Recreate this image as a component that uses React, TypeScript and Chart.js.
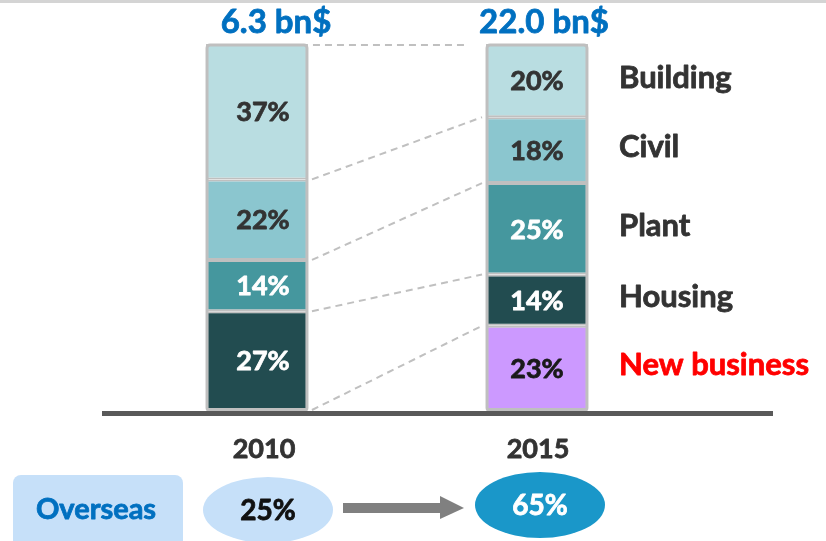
import React, { useEffect, useRef } from "react";
import { Chart, registerables } from "chart.js";

Chart.register(...registerables);

const years = ["2010", "2015"];
const totals = ["6.3 bn$", "22.0 bn$"];
const segmentNames = ["New business", "Housing", "Plant", "Civil", "Building"];
const newBusiness: (number | null)[] = [null, 23];
const housing = [27, 14];
const plant = [14, 25];
const civil = [22, 18];
const building = [37, 20];
const overseasLabel = "Overseas";
const overseasShares = ["25%", "65%"];

const segmentColors = ["#cc99ff", "#224c50", "#45979e", "#8bc6cf", "#b9dde1"];
const valueTextColors = ["#1a1a1a", "#ffffff", "#ffffff", "#333333", "#333333"];
const nameTextColors = ["#ff0000", "#333333", "#333333", "#333333", "#333333"];
const totalOffsets = [19, 7];

const FONT = "Lato, 'Open Sans', 'Noto Sans', sans-serif";

function boldText(ctx: CanvasRenderingContext2D, text: string, x: number, y: number, color: string) {
  ctx.fillStyle = color;
  ctx.strokeStyle = color;
  ctx.lineWidth = 0.8;
  ctx.lineJoin = "round";
  ctx.fillText(text, x, y);
  ctx.strokeText(text, x, y);
}

const overlayPlugin = {
  id: "overlay",
  beforeDatasetsDraw(chart: any) {
    const ctx = chart.ctx as CanvasRenderingContext2D;
    ctx.save();
    ctx.fillStyle = "#d4d4d4";
    ctx.fillRect(0, 0, chart.width, 3);
    ctx.restore();

    const metas = chart.data.datasets.map((_: any, i: number) => chart.getDatasetMeta(i));
    ctx.save();
    ctx.strokeStyle = "#c0c0c0";
    ctx.lineWidth = 2;
    ctx.setLineDash([7, 5]);
    for (let i = 1; i < metas.length; i++) {
      const a = metas[i].data[0];
      const b = metas[i].data[1];
      if (!a || !b) continue;
      const x0 = a.x + a.width / 2 + 4;
      const x1 = b.x - b.width / 2 - 4;
      ctx.beginPath();
      ctx.moveTo(x0, a.base);
      ctx.lineTo(x1, b.base);
      ctx.stroke();
    }
    const topMeta = metas[metas.length - 1];
    const ta = topMeta.data[0];
    const tb = topMeta.data[1];
    ctx.beginPath();
    ctx.moveTo(ta.x + ta.width / 2 + 5, ta.y + 1);
    ctx.lineTo(tb.x - tb.width / 2 - 22, tb.y + 1);
    ctx.stroke();
    ctx.restore();
  },
  afterDatasetsDraw(chart: any) {
    const ctx = chart.ctx as CanvasRenderingContext2D;
    const yScale = chart.scales.y;
    const xScale = chart.scales.x;
    const metas = chart.data.datasets.map((_: any, i: number) => chart.getDatasetMeta(i));

    ctx.save();
    ctx.strokeStyle = "#bfbfbf";
    ctx.lineWidth = 3;
    const topM = metas[metas.length - 1];
    [0, 1].forEach((j) => {
      const t = topM.data[j];
      const x = t.x - t.width / 2 + 1;
      ctx.beginPath();
      (ctx as any).roundRect(x, t.y + 1, t.width - 2, yScale.getPixelForValue(0) - t.y, 3);
      ctx.stroke();
    });
    ctx.restore();

    const y0 = yScale.getPixelForValue(0);
    ctx.save();
    ctx.fillStyle = "#595959";
    ctx.fillRect(102, y0 + 1, 671, 5);
    ctx.restore();

    ctx.save();
    ctx.textAlign = "center";
    ctx.textBaseline = "middle";
    ctx.font = `bold 27px ${FONT}`;
    metas.forEach((meta: any, i: number) => {
      const ds = chart.data.datasets[i];
      meta.data.forEach((el: any, j: number) => {
        const v = ds.data[j];
        if (v == null) return;
        boldText(ctx, `${v}%`, el.x + (j === 0 ? 6 : 0), (el.y + el.base) / 2 + 1, valueTextColors[i]);
      });
    });
    ctx.restore();

    ctx.save();
    ctx.textAlign = "left";
    ctx.textBaseline = "middle";
    ctx.font = `bold 31px ${FONT}`;
    metas.forEach((meta: any, i: number) => {
      const el = meta.data[1];
      if (!el) return;
      boldText(ctx, chart.data.datasets[i].label, 619, (el.y + el.base) / 2 - 3, nameTextColors[i]);
    });
    ctx.restore();

    ctx.save();
    ctx.textAlign = "center";
    ctx.textBaseline = "middle";
    years.forEach((yr, j) => {
      const x = xScale.getPixelForValue(j);
      ctx.font = `bold 33px ${FONT}`;
      boldText(ctx, totals[j], x + totalOffsets[j], 22, "#0070c0");
      ctx.font = `bold 27px ${FONT}`;
      boldText(ctx, yr, x + 7 - j * 6, 449, "#333333");
    });
    ctx.restore();

    ctx.save();
    ctx.fillStyle = "#c6e0f9";
    ctx.beginPath();
    (ctx as any).roundRect(13, 475, 170, 80, 8);
    ctx.fill();
    ctx.font = `bold 29px ${FONT}`;
    ctx.textAlign = "center";
    ctx.textBaseline = "middle";
    boldText(ctx, overseasLabel, 96, 510, "#0070c0");

    const ex = [268, 540];
    const ey = [510, 505];
    const fills = ["#c6e0f9", "#1a97c9"];
    const tcols = ["#111111", "#ffffff"];
    ex.forEach((x, j) => {
      ctx.fillStyle = fills[j];
      ctx.beginPath();
      ctx.ellipse(x, ey[j], 65, 33, 0, 0, Math.PI * 2);
      ctx.fill();
      ctx.font = `bold 28px ${FONT}`;
      boldText(ctx, overseasShares[j], x, ey[j] + 1, tcols[j]);
    });

    ctx.fillStyle = "#808080";
    ctx.fillRect(343, 503, 100, 10);
    ctx.beginPath();
    ctx.moveTo(440, 496);
    ctx.lineTo(464, 508);
    ctx.lineTo(440, 519);
    ctx.closePath();
    ctx.fill();
    ctx.restore();
  },
};

export default function App() {
  const ref = useRef<HTMLCanvasElement | null>(null);
  useEffect(() => {
    if (!ref.current) return;
    const series = [newBusiness, housing, plant, civil, building];
    const chart = new Chart(ref.current, {
      type: "bar",
      data: {
        labels: years,
        datasets: series.map((d, i) => ({
          label: segmentNames[i],
          data: d as any,
          backgroundColor: segmentColors[i],
          borderColor: "#bfbfbf",
          borderWidth: 2,
          borderSkipped: false,
          barPercentage: 0.364,
          categoryPercentage: 1,
        })),
      },
      options: {
        responsive: false,
        animation: false,
        devicePixelRatio: 1,
        layout: { padding: { left: 117, right: 149, top: 44, bottom: 131 } },
        plugins: { legend: { display: false }, tooltip: { enabled: false }, title: { display: false } },
        scales: {
          x: { stacked: true, display: false, offset: true },
          y: { stacked: true, display: false, min: 0, max: 100 },
        },
      },
      plugins: [overlayPlugin],
    });
    return () => chart.destroy();
  }, []);
  return (
    <div style={{ position: "fixed", left: 0, top: 0, width: 826, height: 541, background: "#ffffff" }}>
      <canvas ref={ref} width={826} height={541} style={{ width: 826, height: 541, display: "block" }} />
    </div>
  );
}
